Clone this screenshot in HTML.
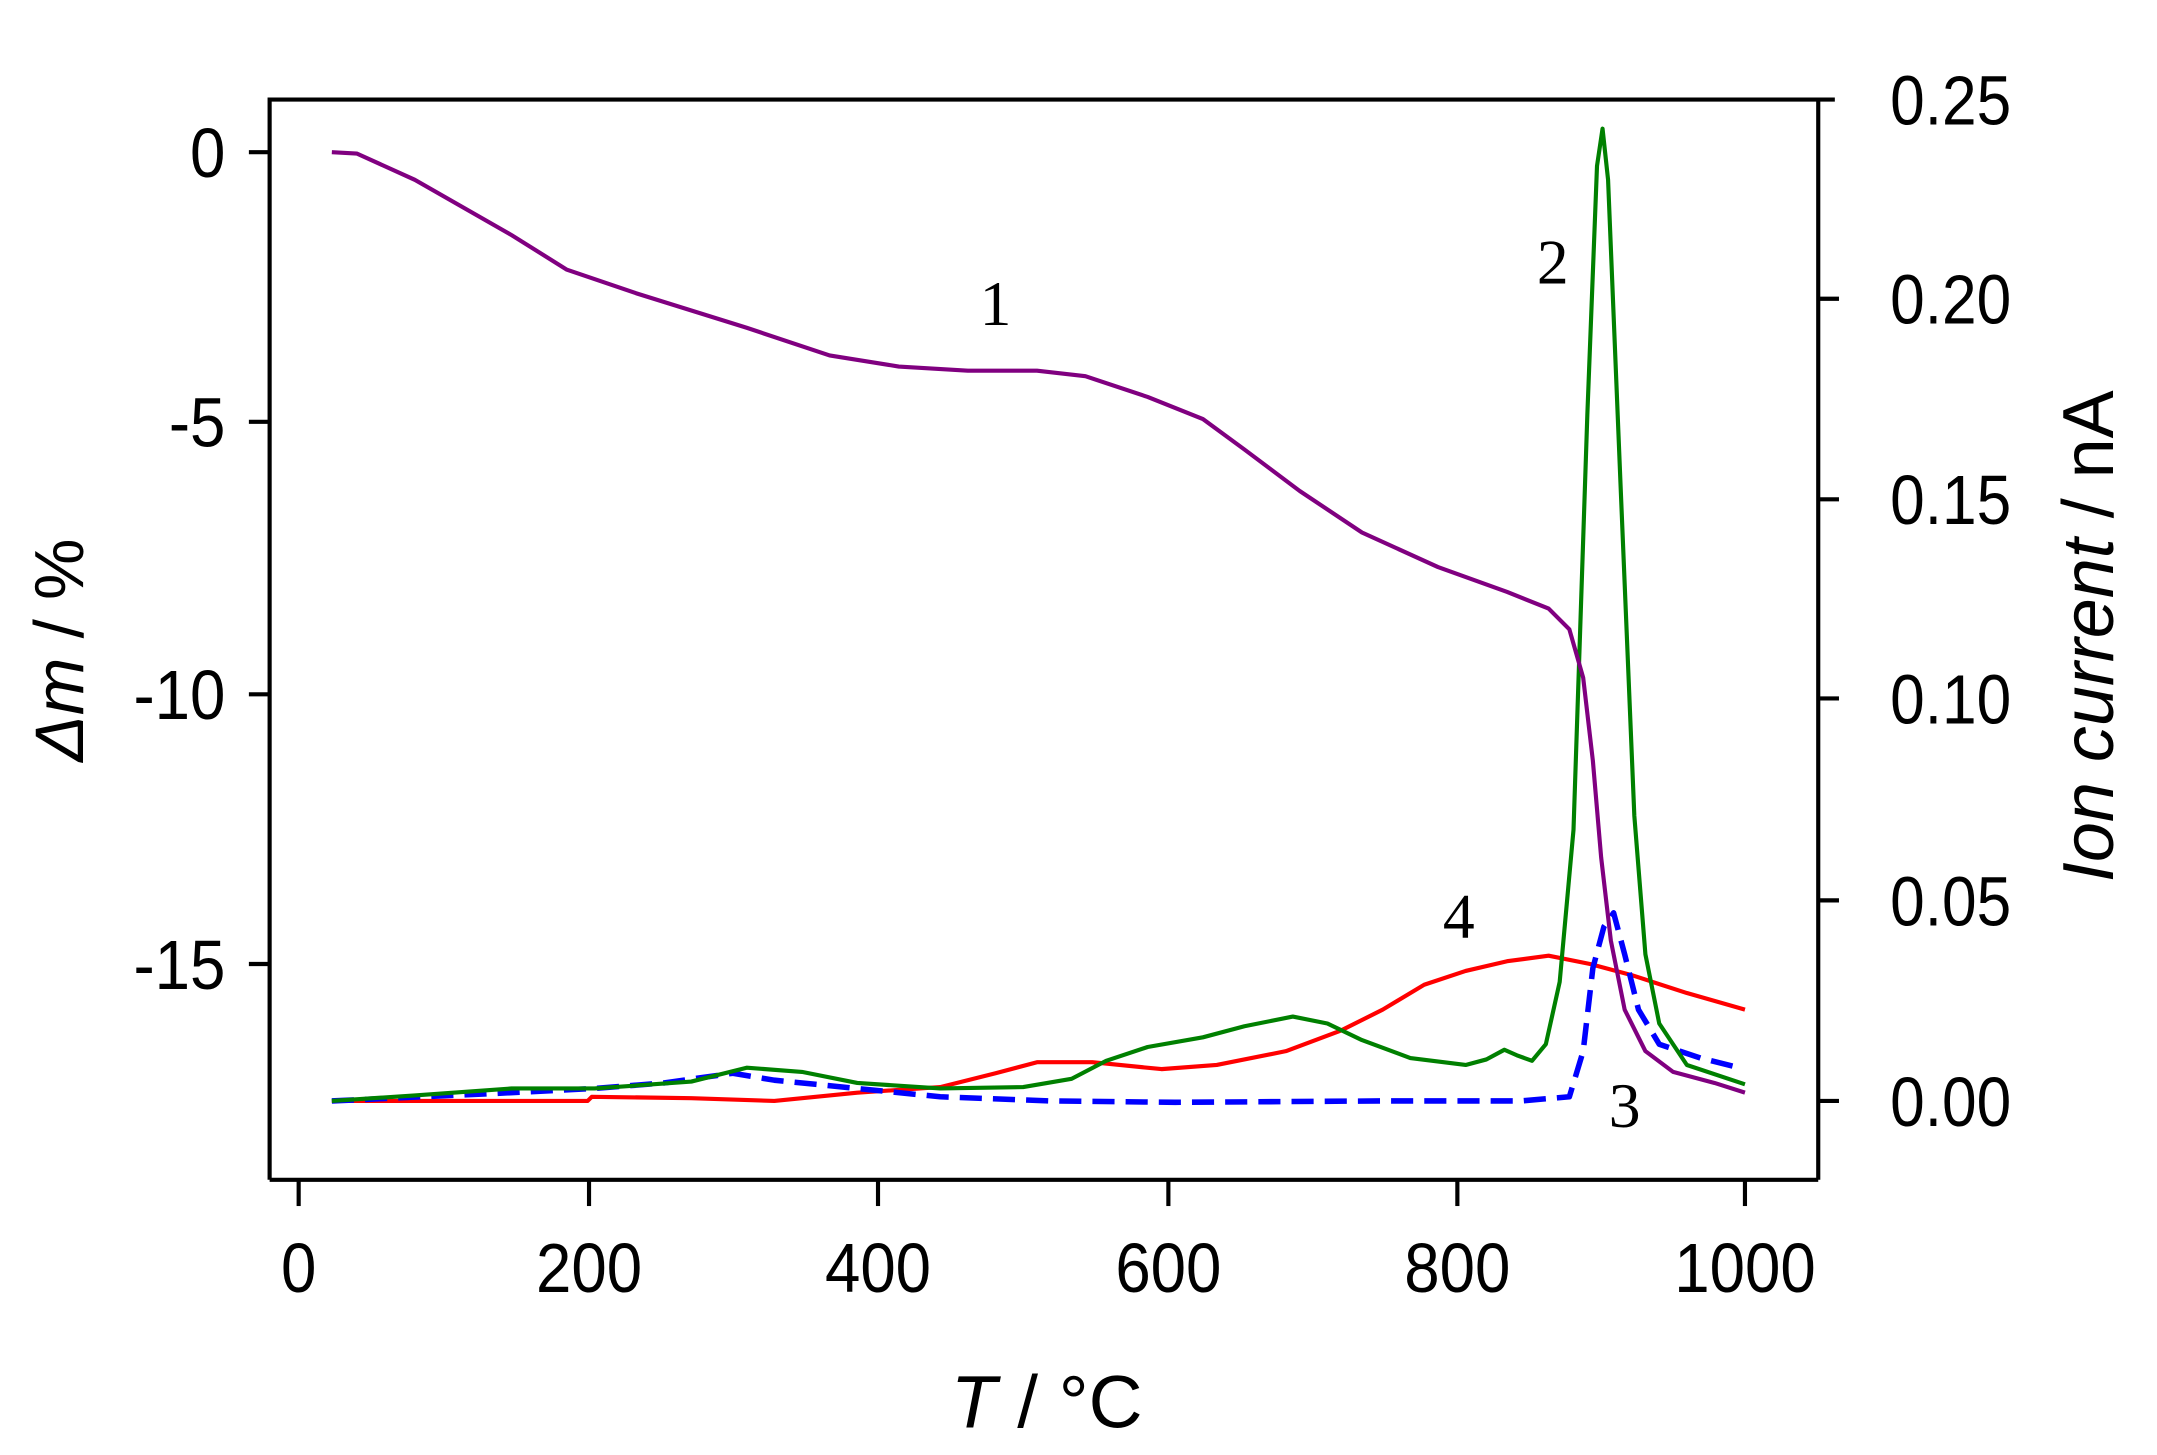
<!DOCTYPE html>
<html><head><meta charset="utf-8"><style>html,body{margin:0;padding:0;background:#fff}svg{display:block}</style></head>
<body>
<svg width="2157" height="1455" viewBox="0 0 1560 1052" preserveAspectRatio="none" xmlns="http://www.w3.org/2000/svg">
<g stroke="#000" stroke-width="3" fill="none">
<polyline points="195,853 195,72 1327,72"/>
<line x1="1315" y1="72" x2="1315" y2="853"/>
<line x1="195" y1="853" x2="1315" y2="853"/>
<line x1="216" y1="853" x2="216" y2="872"/><line x1="426" y1="853" x2="426" y2="872"/><line x1="635" y1="853" x2="635" y2="872"/><line x1="845" y1="853" x2="845" y2="872"/><line x1="1054" y1="853" x2="1054" y2="872"/><line x1="1262" y1="853" x2="1262" y2="872"/>
<line x1="180" y1="110" x2="195" y2="110"/><line x1="180" y1="305" x2="195" y2="305"/><line x1="180" y1="502" x2="195" y2="502"/><line x1="180" y1="697" x2="195" y2="697"/>
<line x1="1315" y1="216" x2="1330" y2="216"/><line x1="1315" y1="361" x2="1330" y2="361"/><line x1="1315" y1="505" x2="1330" y2="505"/><line x1="1315" y1="651" x2="1330" y2="651"/><line x1="1315" y1="796" x2="1330" y2="796"/>
</g>
<g font-family="Liberation Sans, sans-serif" font-size="50" fill="#000">
<g text-anchor="middle">
<text x="216" y="934" transform="translate(216,0) scale(0.92,1) translate(-216,0)">0</text>
<text x="426" y="934" transform="translate(426,0) scale(0.92,1) translate(-426,0)">200</text>
<text x="635" y="934" transform="translate(635,0) scale(0.92,1) translate(-635,0)">400</text>
<text x="845" y="934" transform="translate(845,0) scale(0.92,1) translate(-845,0)">600</text>
<text x="1054" y="934" transform="translate(1054,0) scale(0.92,1) translate(-1054,0)">800</text>
<text x="1262" y="934" transform="translate(1262,0) scale(0.92,1) translate(-1262,0)">1000</text>
</g>
<g text-anchor="end" transform="translate(163,0) scale(0.92,1) translate(-163,0)">
<text x="163" y="128">0</text><text x="163" y="323">-5</text><text x="163" y="520">-10</text><text x="163" y="715">-15</text>
</g>
<g transform="translate(1367,0) scale(0.9,1) translate(-1367,0)">
<text x="1367" y="90">0.25</text><text x="1367" y="234">0.20</text><text x="1367" y="379">0.15</text><text x="1367" y="523">0.10</text><text x="1367" y="669">0.05</text><text x="1367" y="814">0.00</text>
</g>
<text x="757" y="1032" text-anchor="middle" font-size="54"><tspan font-style="italic">T</tspan> / °C</text>
<text transform="translate(60,470) rotate(-90)" text-anchor="middle" font-size="50"><tspan font-style="italic">Δm</tspan> / %</text>
<text transform="translate(1528,460) rotate(-90)" text-anchor="middle" font-size="52"><tspan font-style="italic">Ion current</tspan> / nA</text>
</g>
<g font-family="Liberation Serif, serif" font-size="46" fill="#000" text-anchor="middle">
<text x="720" y="235">1</text><text x="1123" y="205">2</text><text x="1175" y="815">3</text><text x="1055" y="678">4</text>
</g>
<g fill="none" stroke-width="3" stroke-linejoin="round">
<polyline stroke="#ff0000" points="240,796 425,796 428,793 500,794 560,796 620,790 680,786 720,776 750,768 790,768 840,773 880,770 930,760 970,745 1000,730 1030,712 1060,702 1090,695 1120,691 1150,697 1180,705 1220,718 1262,730"/>
<polyline stroke="#0000ff" stroke-width="4" stroke-dasharray="16,8" points="240,796 350,791 430,787 480,783 530,776 560,781 610,786 680,793 760,796 850,797 1000,796 1100,796 1135,793 1145,760 1152,700 1160,670 1167,660 1175,690 1185,730 1200,755 1230,765 1258,772"/>
<polyline stroke="#008000" points="240,796 300,792 370,787 430,787 500,782 540,772 580,775 620,783 680,787 740,786 775,780 800,767 830,757 870,750 900,742 935,735 960,740 985,752 1020,765 1060,770 1075,766 1088,759 1097,763 1108,767 1118,755 1128,710 1138,600 1148,300 1155,120 1159,93 1163,130 1172,350 1182,590 1190,690 1200,740 1220,770 1262,784"/>
<polyline stroke="#800080" points="240,110 258,111 300,130 370,170 410,195 460,212 540,237 600,257 650,265 700,268 750,268 785,272 830,287 870,303 900,325 940,355 985,385 1040,410 1090,428 1120,440 1135,455 1145,490 1152,550 1158,620 1165,680 1175,730 1190,760 1210,775 1240,783 1262,790"/>
</g>
</svg>
</body></html>
